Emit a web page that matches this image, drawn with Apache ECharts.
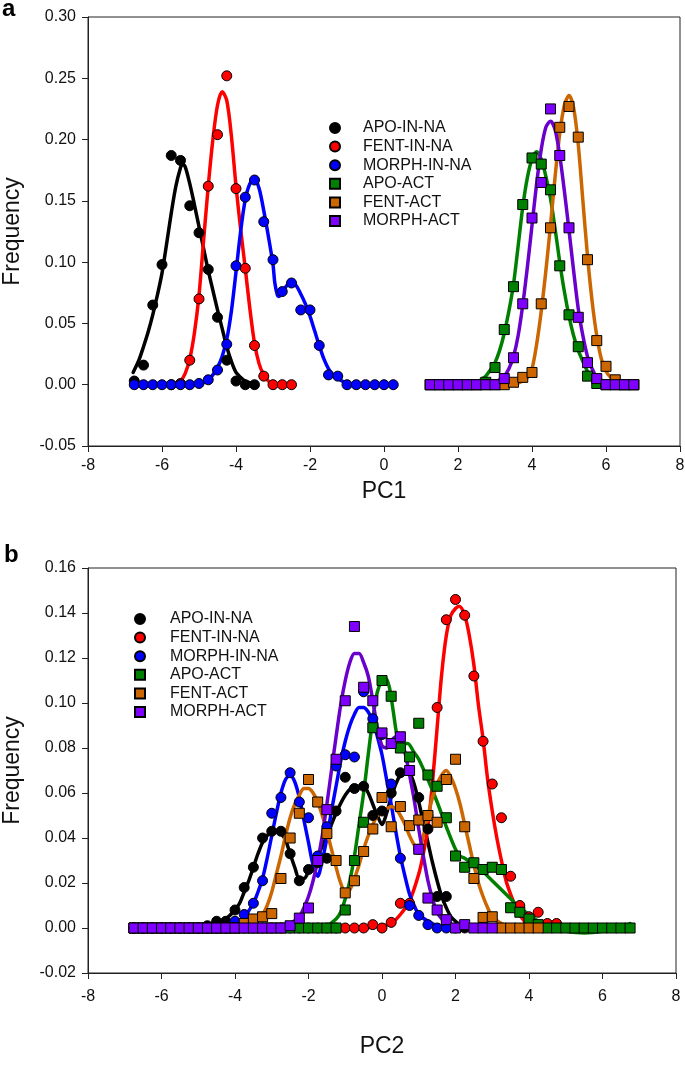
<!DOCTYPE html>
<html><head><meta charset="utf-8">
<script src="https://cdn.jsdelivr.net/npm/echarts@6/dist/echarts.min.js"></script>
<style>html,body{margin:0;padding:0;background:#fff}#c{width:685px;height:1066px}</style>
</head><body><div id="c"></div>
<script>
// ---------- names & ticks ----------
const seriesNames = ['APO-IN-NA','FENT-IN-NA','MORPH-IN-NA','APO-ACT','FENT-ACT','MORPH-ACT'];
const xTicks = [-8,-6,-4,-2,0,2,4,6,8];
const yTicksA = [-0.05,0.00,0.05,0.10,0.15,0.20,0.25,0.30];
const yTicksB = [-0.02,0.00,0.02,0.04,0.06,0.08,0.10,0.12,0.14,0.16];
const xTitleA = 'PC1', xTitleB = 'PC2', yTitle = 'Frequency';

// ---------- panel a : points ----------
const aApoInPts = [[-6.75,0.003],[-6.5,0.016],[-6.25,0.065],[-6.0,0.098],[-5.75,0.187],[-5.5,0.183],[-5.25,0.146],[-5.0,0.124],[-4.75,0.094],[-4.5,0.055],[-4.25,0.020],[-4.0,0.003],[-3.75,0.0],[-3.5,0.0]];
const aFentInPts = [[-5.75,0.0],[-5.5,0.001],[-5.25,0.020],[-5.0,0.070],[-4.75,0.162],[-4.5,0.204],[-4.25,0.252],[-4.0,0.160],[-3.75,0.095],[-3.5,0.032],[-3.25,0.007],[-3.0,0.0],[-2.75,0.0],[-2.5,0.0]];
const aMorphInPts = [[-6.75,0.0],[-6.5,0.0],[-6.25,0.0],[-6.0,0.0],[-5.75,0.0],[-5.5,0.0],[-5.25,0.0],[-5.0,0.001],[-4.75,0.004],[-4.5,0.012],[-4.25,0.033],[-4.0,0.097],[-3.75,0.153],[-3.5,0.167],[-3.25,0.133],[-3.0,0.102],[-2.75,0.076],[-2.5,0.083],[-2.25,0.061],[-2.0,0.061],[-1.75,0.032],[-1.5,0.008],[-1.25,0.007],[-1.0,0.0],[-0.75,0.0],[-0.5,0.0],[-0.25,0.0],[0.0,0.0],[0.25,0.0]];
const aApoActPts = [[1.25,0],[1.5,0],[1.75,0],[2.0,0],[2.25,0],[2.5,0],[2.75,0.002],[3.0,0.014],[3.25,0.045],[3.5,0.080],[3.75,0.147],[4.0,0.185],[4.25,0.180],[4.5,0.159],[4.75,0.097],[5.0,0.057],[5.25,0.031],[5.5,0.007],[5.75,0.001],[6.0,0],[6.25,0],[6.5,0],[6.75,0]];
const aFentActPts = [[1.25,0],[1.5,0],[1.75,0],[2.0,0],[2.25,0],[2.5,0],[2.75,0],[3.0,0],[3.25,0],[3.5,0.002],[3.75,0.006],[4.0,0.010],[4.25,0.066],[4.5,0.128],[4.75,0.210],[5.0,0.227],[5.25,0.202],[5.5,0.102],[5.75,0.036],[6.0,0.015],[6.25,0.004],[6.5,0],[6.75,0]];
const aMorphActPts = [[1.25,0],[1.5,0],[1.75,0],[2.0,0],[2.25,0],[2.5,0],[2.75,0],[3.0,0],[3.25,0.005],[3.5,0.022],[3.75,0.066],[4.0,0.136],[4.25,0.165],[4.5,0.225],[4.75,0.187],[5.0,0.128],[5.25,0.055],[5.5,0.018],[5.75,0.005],[6.0,0],[6.25,0],[6.5,0],[6.75,0]];

// ---------- panel a : fitted curves ----------
const aApoInFit = [[-6.78,0.010],[-6.625,0.020],[-6.5,0.031],[-6.375,0.043],[-6.25,0.057],[-6.125,0.073],[-6.0,0.091],[-5.875,0.115],[-5.75,0.140],[-5.625,0.162],[-5.5,0.177],[-5.45,0.180],[-5.375,0.178],[-5.25,0.164],[-5.125,0.147],[-5.0,0.129],[-4.875,0.111],[-4.75,0.093],[-4.625,0.077],[-4.5,0.061],[-4.375,0.046],[-4.25,0.031],[-4.125,0.019],[-4.0,0.010],[-3.875,0.006],[-3.75,0.003],[-3.5,0.0005]];
const aFentInFit = [[-6.75,0],[-5.75,0],[-5.625,0.001],[-5.5,0.003],[-5.375,0.009],[-5.25,0.021],[-5.125,0.042],[-5.0,0.073],[-4.875,0.118],[-4.75,0.162],[-4.625,0.200],[-4.5,0.228],[-4.375,0.239],[-4.25,0.232],[-4.125,0.203],[-4.0,0.162],[-3.875,0.127],[-3.75,0.095],[-3.625,0.062],[-3.5,0.034],[-3.375,0.017],[-3.25,0.008],[-3.125,0.003],[-3.0,0.001],[-2.5,0]];
const aMorphInFit = [[-6.75,0.001],[-5.0,0.001],[-4.875,0.002],[-4.75,0.004],[-4.625,0.008],[-4.5,0.014],[-4.375,0.023],[-4.25,0.037],[-4.125,0.060],[-4.0,0.092],[-3.875,0.125],[-3.75,0.151],[-3.625,0.164],[-3.5,0.168],[-3.375,0.160],[-3.25,0.142],[-3.125,0.121],[-3.0,0.098],[-2.95,0.083],[-2.88,0.073],[-2.84,0.072],[-2.75,0.075],[-2.625,0.081],[-2.5,0.084],[-2.375,0.081],[-2.25,0.074],[-2.125,0.066],[-2.0,0.056],[-1.875,0.044],[-1.75,0.032],[-1.625,0.021],[-1.5,0.013],[-1.375,0.008],[-1.25,0.005],[-1.0,0.001],[-0.85,0]];
const aApoActFit = [[1.25,0],[2.25,0.001],[2.5,0.002],[2.625,0.004],[2.75,0.007],[2.875,0.012],[3.0,0.018],[3.125,0.028],[3.25,0.042],[3.375,0.060],[3.5,0.082],[3.625,0.113],[3.75,0.145],[3.875,0.169],[4.0,0.184],[4.125,0.190],[4.25,0.184],[4.375,0.170],[4.5,0.152],[4.625,0.127],[4.75,0.100],[4.875,0.076],[5.0,0.056],[5.125,0.040],[5.25,0.028],[5.375,0.019],[5.5,0.011],[5.625,0.006],[5.75,0.003],[6.0,0.001],[6.75,0]];
const aFentActFit = [[1.25,0],[3.5,0.0005],[3.75,0.003],[3.875,0.006],[4.0,0.013],[4.125,0.033],[4.25,0.060],[4.375,0.093],[4.5,0.130],[4.625,0.170],[4.75,0.205],[4.875,0.228],[5.0,0.236],[5.125,0.226],[5.25,0.196],[5.375,0.150],[5.5,0.105],[5.625,0.068],[5.75,0.040],[5.875,0.021],[6.0,0.011],[6.125,0.006],[6.25,0.003],[6.5,0.001],[6.75,0]];
const aMorphActFit = [[1.25,0],[2.75,0.0005],[3.0,0.002],[3.125,0.004],[3.25,0.007],[3.375,0.013],[3.5,0.023],[3.625,0.040],[3.75,0.065],[3.875,0.096],[4.0,0.130],[4.125,0.164],[4.25,0.192],[4.375,0.210],[4.5,0.215],[4.625,0.208],[4.75,0.187],[4.875,0.158],[5.0,0.126],[5.125,0.093],[5.25,0.062],[5.375,0.040],[5.5,0.023],[5.625,0.013],[5.75,0.006],[5.875,0.003],[6.0,0.001],[6.25,0.0003],[6.75,0]];

// ---------- panel b : points ----------
const bApoInPts = [[-6.75,0],[-6.5,0],[-6.25,0],[-6.0,0],[-5.75,0],[-5.5,0],[-5.25,0],[-5.0,0],[-4.75,0.001],[-4.5,0.003],[-4.25,0.003],[-4.0,0.008],[-3.75,0.018],[-3.5,0.027],[-3.25,0.040],[-3.0,0.043],[-2.75,0.043],[-2.5,0.033],[-2.25,0.021],[-2.0,0.026],[-1.75,0.029],[-1.5,0.031],[-1.25,0.052],[-1.0,0.067],[-0.75,0.062],[-0.5,0.063],[-0.25,0.050],[0.0,0.052],[0.25,0.060],[0.5,0.069],[0.75,0.070],[1.0,0.058],[1.25,0.044],[1.5,0.014],[1.75,0.014],[2.0,0.0],[2.25,0.0]];
const bFentInPts = [[-6.75,0],[-6.5,0],[-6.25,0],[-6.0,0],[-5.75,0],[-5.5,0],[-5.25,0],[-5.0,0],[-4.75,0],[-4.5,0],[-4.25,0],[-4.0,0],[-3.75,0],[-3.5,0],[-3.25,0],[-3.0,0],[-2.75,0],[-2.5,0],[-2.25,0],[-2.0,0],[-1.75,0],[-1.5,0],[-1.25,0],[-1.0,0],[-0.75,0],[-0.5,0],[-0.25,0.0015],[0.0,0],[0.25,0.0025],[0.5,0.011],[0.75,0.011],[1.0,0.035],[1.25,0.050],[1.5,0.098],[1.75,0.137],[2.0,0.146],[2.25,0.139],[2.5,0.112],[2.75,0.083],[3.0,0.064],[3.25,0.049],[3.5,0.023],[3.75,0.010],[4.0,0.005],[4.25,0.007],[4.5,0.002],[4.75,0.002]];
const bMorphInPts = [[-6.75,0],[-6.5,0],[-6.25,0],[-6.0,0],[-5.75,0],[-5.5,0],[-5.25,0],[-5.0,0],[-4.75,0],[-4.5,0],[-4.25,0],[-4.0,0.003],[-3.75,0.006],[-3.5,0.011],[-3.25,0.021],[-3.0,0.051],[-2.75,0.058],[-2.5,0.069],[-2.25,0.056],[-2.0,0.049],[-1.75,0.032],[-1.5,0.045],[-1.25,0.072],[-1.0,0.077],[-0.75,0.076],[-0.5,0.105],[-0.25,0.093],[0.0,0.086],[0.25,0.064],[0.5,0.031],[0.75,0.010],[1.0,0.0056],[1.25,0.0015],[1.5,0],[1.75,0]];
const bApoActPts = [[-6.75,0],[-6.5,0],[-6.25,0],[-6.0,0],[-5.75,0],[-5.5,0],[-5.25,0],[-5.0,0],[-4.75,0],[-4.5,0],[-4.25,0],[-4.0,0],[-3.75,0],[-3.5,0],[-3.25,0],[-3.0,0],[-2.75,0],[-2.5,0],[-2.25,0],[-2.0,0],[-1.75,0],[-1.5,0],[-1.25,0],[-1.0,0.008],[-0.75,0.030],[-0.5,0.047],[-0.25,0.089],[0.0,0.110],[0.25,0.103],[0.5,0.080],[0.75,0.076],[1.0,0.091],[1.25,0.068],[1.5,0.063],[1.75,0.049],[2.0,0.032],[2.25,0.027],[2.5,0.029],[2.75,0.026],[3.0,0.027],[3.25,0.026],[3.5,0.009],[3.75,0.007],[4.0,0.004],[4.25,0.0015],[4.5,0],[4.75,0],[5.0,0],[5.25,0],[5.5,0],[5.75,0],[6.0,0],[6.25,0],[6.5,0],[6.75,0]];
const bFentActPts = [[-6.75,0],[-6.5,0],[-6.25,0],[-6.0,0],[-5.75,0],[-5.5,0],[-5.25,0],[-5.0,0],[-4.75,0],[-4.5,0],[-4.25,0],[-4.0,0],[-3.75,0.002],[-3.5,0.004],[-3.25,0.005],[-3.0,0.0064],[-2.75,0.022],[-2.5,0.040],[-2.25,0.051],[-2.0,0.066],[-1.75,0.056],[-1.5,0.042],[-1.25,0.030],[-1.0,0.0156],[-0.75,0.021],[-0.5,0.034],[-0.25,0.044],[0.0,0.058],[0.25,0.045],[0.5,0.054],[0.75,0.0455],[1.0,0.048],[1.25,0.050],[1.5,0.047],[1.75,0.066],[2.0,0.075],[2.25,0.045],[2.5,0.022],[2.75,0.0047],[3.0,0.005],[3.25,0],[3.5,0],[3.75,0],[4.0,0],[4.25,0]];
const bMorphActPts = [[-6.75,0],[-6.5,0],[-6.25,0],[-6.0,0],[-5.75,0],[-5.5,0],[-5.25,0],[-5.0,0],[-4.75,0],[-4.5,0],[-4.25,0],[-4.0,0],[-3.75,0],[-3.5,0],[-3.25,0],[-3.0,0],[-2.75,0],[-2.5,0.001],[-2.25,0.0044],[-2.0,0.0089],[-1.75,0.030],[-1.5,0.0526],[-1.25,0.075],[-1.0,0.101],[-0.75,0.134],[-0.5,0.107],[-0.25,0.101],[0.0,0.0867],[0.25,0.082],[0.5,0.085],[0.75,0.070],[1.0,0.035],[1.25,0.0133],[1.5,0.008],[1.75,0.0037],[2.0,0],[2.25,0.0015],[2.5,0],[2.75,0],[3.0,0]];

// ---------- panel b : fitted curves ----------
const bApoInFit = [[-6.75,0],[-4.75,0],[-4.5,0.0015],[-4.25,0.004],[-4.0,0.008],[-3.875,0.011],[-3.75,0.016],[-3.625,0.021],[-3.5,0.027],[-3.375,0.033],[-3.25,0.038],[-3.125,0.041],[-3.0,0.043],[-2.875,0.043],[-2.75,0.042],[-2.625,0.039],[-2.5,0.033],[-2.375,0.027],[-2.25,0.022],[-2.125,0.022],[-2.0,0.025],[-1.75,0.032],[-1.5,0.041],[-1.25,0.051],[-1.0,0.059],[-0.75,0.063],[-0.5,0.063],[-0.375,0.060],[-0.25,0.055],[-0.125,0.050],[0.0,0.046],[0.125,0.051],[0.25,0.058],[0.375,0.064],[0.5,0.068],[0.625,0.070],[0.75,0.069],[0.875,0.064],[1.0,0.056],[1.125,0.047],[1.25,0.038],[1.375,0.029],[1.5,0.021],[1.625,0.014],[1.75,0.009],[1.875,0.005],[2.0,0.003],[2.25,0]];
const bFentInFit = [[-6.75,0],[-0.5,0],[0.0,0.001],[0.25,0.002],[0.5,0.006],[0.75,0.012],[1.0,0.024],[1.125,0.033],[1.25,0.045],[1.375,0.065],[1.5,0.089],[1.625,0.113],[1.75,0.130],[1.875,0.139],[2.0,0.142],[2.1,0.143],[2.25,0.139],[2.375,0.130],[2.5,0.117],[2.625,0.099],[2.75,0.084],[2.875,0.066],[3.0,0.052],[3.125,0.040],[3.25,0.030],[3.375,0.021],[3.5,0.015],[3.625,0.010],[3.75,0.006],[3.875,0.003],[4.0,0.001],[4.3,0]];
const bMorphInFit = [[-6.75,0],[-4.25,0],[-4.0,0.002],[-3.75,0.005],[-3.5,0.011],[-3.375,0.016],[-3.25,0.022],[-3.125,0.031],[-3.0,0.041],[-2.875,0.051],[-2.75,0.060],[-2.625,0.066],[-2.5,0.068],[-2.375,0.065],[-2.25,0.058],[-2.125,0.048],[-2.0,0.038],[-1.875,0.028],[-1.75,0.023],[-1.625,0.030],[-1.5,0.040],[-1.375,0.052],[-1.25,0.063],[-1.125,0.074],[-1.0,0.083],[-0.875,0.090],[-0.75,0.095],[-0.625,0.098],[-0.5,0.098],[-0.375,0.096],[-0.25,0.092],[-0.125,0.085],[0.0,0.077],[0.125,0.066],[0.25,0.055],[0.375,0.043],[0.5,0.032],[0.625,0.023],[0.75,0.015],[0.875,0.010],[1.0,0.006],[1.25,0.003],[1.5,0.001],[1.75,0]];
const bApoActFit = [[-6.75,0],[-1.75,0],[-1.5,0.001],[-1.25,0.004],[-1.125,0.007],[-1.0,0.013],[-0.875,0.021],[-0.75,0.032],[-0.625,0.046],[-0.5,0.060],[-0.375,0.077],[-0.25,0.093],[-0.125,0.105],[0.0,0.110],[0.1,0.111],[0.2,0.107],[0.3,0.097],[0.4,0.086],[0.5,0.080],[0.6,0.082],[0.7,0.082],[0.875,0.078],[1.0,0.075],[1.25,0.066],[1.5,0.056],[1.75,0.045],[2.0,0.035],[2.125,0.032],[2.25,0.031],[2.5,0.028],[2.75,0.025],[3.0,0.021],[3.25,0.017],[3.5,0.013],[3.75,0.009],[4.0,0.006],[4.25,0.003],[4.5,0.001],[4.75,-0.0005],[5.0,-0.0015],[5.5,-0.0022],[6.0,-0.0015],[6.5,0.0002],[6.75,0.002]];
const bFentActFit = [[-6.75,0],[-4.0,0],[-3.75,0.001],[-3.5,0.003],[-3.25,0.006],[-3.125,0.010],[-3.0,0.016],[-2.875,0.024],[-2.75,0.032],[-2.625,0.041],[-2.5,0.049],[-2.375,0.055],[-2.25,0.059],[-2.125,0.062],[-2.0,0.062],[-1.875,0.060],[-1.75,0.056],[-1.625,0.050],[-1.5,0.043],[-1.375,0.035],[-1.25,0.027],[-1.125,0.020],[-1.0,0.016],[-0.875,0.017],[-0.75,0.022],[-0.625,0.028],[-0.5,0.035],[-0.375,0.041],[-0.25,0.046],[-0.125,0.050],[0.0,0.052],[0.125,0.053],[0.25,0.054],[0.375,0.053],[0.5,0.050],[0.625,0.046],[0.75,0.041],[0.875,0.037],[1.0,0.035],[1.125,0.041],[1.25,0.050],[1.375,0.058],[1.5,0.064],[1.625,0.068],[1.75,0.070],[1.875,0.067],[2.0,0.062],[2.125,0.055],[2.25,0.046],[2.375,0.037],[2.5,0.028],[2.625,0.020],[2.75,0.014],[2.875,0.009],[3.0,0.005],[3.25,0.002],[3.5,0.0005],[4.25,0]];
const bMorphActFit = [[-6.75,0],[-3.0,0],[-2.75,0.0008],[-2.5,0.002],[-2.25,0.005],[-2.125,0.009],[-2.0,0.014],[-1.875,0.021],[-1.75,0.030],[-1.625,0.041],[-1.5,0.055],[-1.375,0.070],[-1.25,0.085],[-1.125,0.099],[-1.0,0.110],[-0.875,0.118],[-0.75,0.122],[-0.625,0.122],[-0.5,0.118],[-0.375,0.112],[-0.25,0.101],[-0.125,0.089],[0.0,0.081],[0.125,0.080],[0.25,0.083],[0.375,0.085],[0.5,0.084],[0.625,0.078],[0.75,0.068],[0.875,0.057],[1.0,0.044],[1.125,0.032],[1.25,0.021],[1.375,0.013],[1.5,0.007],[1.625,0.004],[1.75,0.002],[2.0,0.0005],[2.25,0]];

// ---------- styles ----------
const markerColors = ['#000000','#ff0000','#0000ff','#008000','#cc6600','#7f00ff'];
const lineColors   = ['#000000','#ff0000','#0000ff','#008000','#cc6600','#6a00cc'];
const symbols = ['circle','circle','circle','rect','rect','rect'];
const FONT = '"Liberation Sans", Arial, Helvetica, sans-serif';

function panelSeries(g, pts, fits){
  const out = [];
  fits.forEach((d,i)=>out.push({
    type:'line', name:seriesNames[i]+' fit', xAxisIndex:g, yAxisIndex:g, data:d,
    smooth:0.3, showSymbol:false, symbol:'none', silent:true,
    lineStyle:{color:lineColors[i], width:3.5, cap:'round', join:'round'}, itemStyle:{color:lineColors[i]}, z:2
  }));
  pts.forEach((d,i)=>out.push({
    type:'scatter', name:seriesNames[i], xAxisIndex:g, yAxisIndex:g, data:d,
    symbol:symbols[i], symbolSize:10,
    itemStyle:{color:markerColors[i], borderColor:'#000', borderWidth:1, opacity:1}, z:3
  }));
  return out;
}

function xAxisCfg(g, title, nameGap, margin){
  return {type:'value', gridIndex:g, min:xTicks[0], max:xTicks[xTicks.length-1], interval:xTicks[1]-xTicks[0],
    axisLine:{onZero:false, lineStyle:{color:'#222', width:1}},
    axisTick:{show:true, length:6, lineStyle:{color:'#222'}},
    axisLabel:{fontSize:16, color:'#111', margin:margin, fontFamily:FONT},
    splitLine:{show:false},
    name:title, nameLocation:'middle', nameGap:nameGap,
    nameTextStyle:{fontSize:23, color:'#111', fontFamily:FONT}};
}
function yAxisCfg(g, ticks){
  return {type:'value', gridIndex:g, min:ticks[0], max:ticks[ticks.length-1], interval:+(ticks[1]-ticks[0]).toFixed(4),
    axisLine:{onZero:false, lineStyle:{color:'#222', width:1}},
    axisTick:{show:true, length:6, lineStyle:{color:'#222'}},
    axisLabel:{fontSize:16, color:'#111', margin:12, fontFamily:FONT,
      formatter:v=>(Math.abs(v)<1e-9?0:v).toFixed(2)},
    splitLine:{show:false},
    name:yTitle, nameLocation:'middle', nameGap:64, nameRotate:90,
    nameTextStyle:{fontSize:23, color:'#111', fontFamily:FONT}};
}
function legendCfg(left, top, pad){
  return {data:seriesNames, orient:'vertical', left:left, top:top, itemWidth:10, itemHeight:10, itemGap:2.6,
    selectedMode:false,
    textStyle:{fontSize:16, color:'#111', fontFamily:FONT, lineHeight:16, padding:[0,0,0,pad]}};
}

const chart = echarts.init(document.getElementById('c'), null, {renderer:'canvas'});
chart.setOption({
  animation:false,
  backgroundColor:'#fff',
  grid:[
    {left:88, top:17, width:592, height:429, show:true, borderColor:'#222', borderWidth:1, containLabel:false, outerBoundsMode:'none'},
    {left:88, top:568, width:588, height:405, show:true, borderColor:'#222', borderWidth:1, containLabel:false, outerBoundsMode:'none'}
  ],
  xAxis:[xAxisCfg(0, xTitleA, 34, 12), xAxisCfg(1, xTitleB, 62, 16)],
  yAxis:[yAxisCfg(0, yTicksA), yAxisCfg(1, yTicksB)],
  legend:[legendCfg(324, 115, 18), legendCfg(129, 606, 20)],
  graphic:[
    {type:'text', left:2, top:-3, style:{text:'a', font:'bold 24px '+FONT, fill:'#000'}},
    {type:'text', left:4, top:543, style:{text:'b', font:'bold 24px '+FONT, fill:'#000'}}
  ],
  series:[].concat(
    panelSeries(0,[aApoInPts,aFentInPts,aMorphInPts,aApoActPts,aFentActPts,aMorphActPts],
                  [aApoInFit,aFentInFit,aMorphInFit,aApoActFit,aFentActFit,aMorphActFit]),
    panelSeries(1,[bApoInPts,bFentInPts,bMorphInPts,bApoActPts,bFentActPts,bMorphActPts],
                  [bApoInFit,bFentInFit,bMorphInFit,bApoActFit,bFentActFit,bMorphActFit])
  )
});
</script></body></html>
